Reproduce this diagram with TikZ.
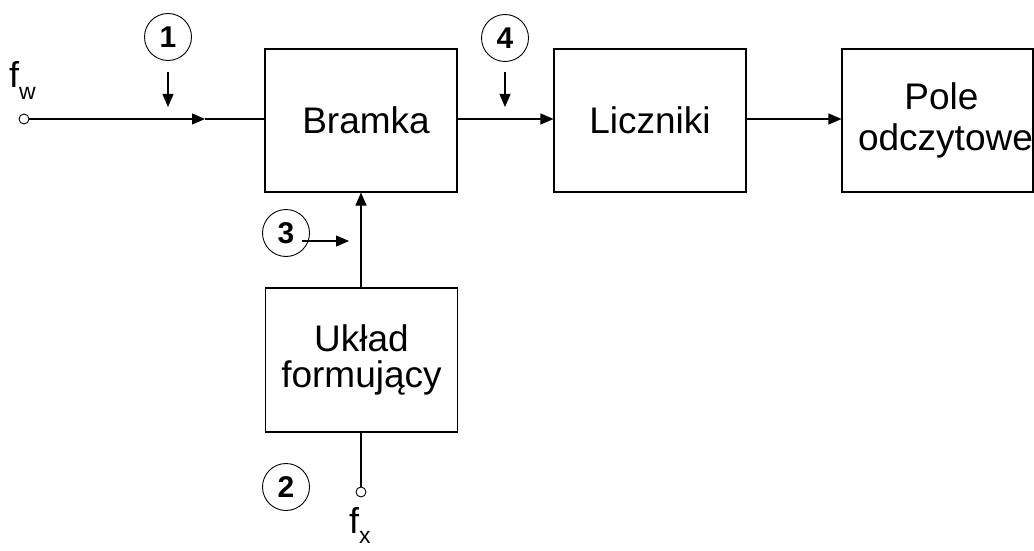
\documentclass[tikz,border=0pt]{standalone}
\usepackage{fontspec}
\setmainfont{Liberation Sans}
\usetikzlibrary{arrows.meta}
\tikzset{
  blk/.style={draw, line width=1.1pt, minimum width=192pt, minimum height=143pt, inner sep=0pt, align=center, font=\fontsize{37}{41}\selectfont},
  numc/.style={draw, circle, line width=0.9pt, minimum size=47pt, inner sep=0pt, font=\fontsize{30}{30}\selectfont\bfseries},
  term/.style={draw, circle, line width=0.9pt, minimum size=10pt, inner sep=0pt},
  conn/.style={line width=1.1pt},
  arr/.style={line width=1.1pt, -{Triangle[length=13pt, width=11pt]}},
  sig/.style={inner sep=0pt, anchor=base west}
}
\begin{document}
\begin{tikzpicture}[x=1pt, y=-1pt]
\useasboundingbox (0,0) rectangle (1034,551);
% blocks
\node[blk] (bramka) at (361,120.5) {\hspace*{10pt}Bramka};
\node[blk] (licz) at (650,120.5) {Liczniki};
\node[blk, minimum width=191pt] (pole) at (937.5,120.5) {\hspace*{8pt}Pole\\\hspace*{16pt}odczytowe};
\node[blk, minimum height=144pt, font=\fontsize{37}{36}\selectfont] (uklad) at (361.5,360) {Układ\\formujący};
% terminals
\node[term] (fw) at (24,119) {};
\node[term] (fx) at (361,492) {};
\node[sig] (fwl) at (9,88) {\fontsize{36}{36}\selectfont f\raisebox{-12pt}{\fontsize{23}{23}\selectfont w}};
\node[sig] (fxl) at (349,533) {\fontsize{36}{36}\selectfont f\raisebox{-10pt}{\fontsize{23}{23}\selectfont x}};
% numbered circles
\node[numc] (c1) at (168,37) {1};
\node[numc] (c4) at (505,38) {4};
\node[numc] (c3) at (286,233) {3};
\node[numc] (c2) at (286,487) {2};
% helper coordinates
\coordinate (m1) at (205,119);
\coordinate (a1s) at (168,72);
\coordinate (a1e) at (168,107);
\coordinate (a4s) at (505,72);
\coordinate (a4e) at (505,107);
\coordinate (a3s) at (302,241);
\coordinate (a3e) at (349,241);
% connectors
\draw[arr] (fw.east) -- (m1);
\draw[conn] (m1) -- (bramka.west |- m1);
\draw[arr] (bramka.east |- m1) -- (licz.west |- m1);
\draw[arr] (licz.east |- m1) -- (pole.west |- m1);
\draw[arr] (uklad.north -| fx) -- (bramka.south -| fx);
\draw[conn] (uklad.south -| fx) -- (fx.north);
\draw[arr] (a1s) -- (a1e);
\draw[arr] (a4s) -- (a4e);
\draw[arr] (a3s) -- (a3e);
\end{tikzpicture}
\end{document}
